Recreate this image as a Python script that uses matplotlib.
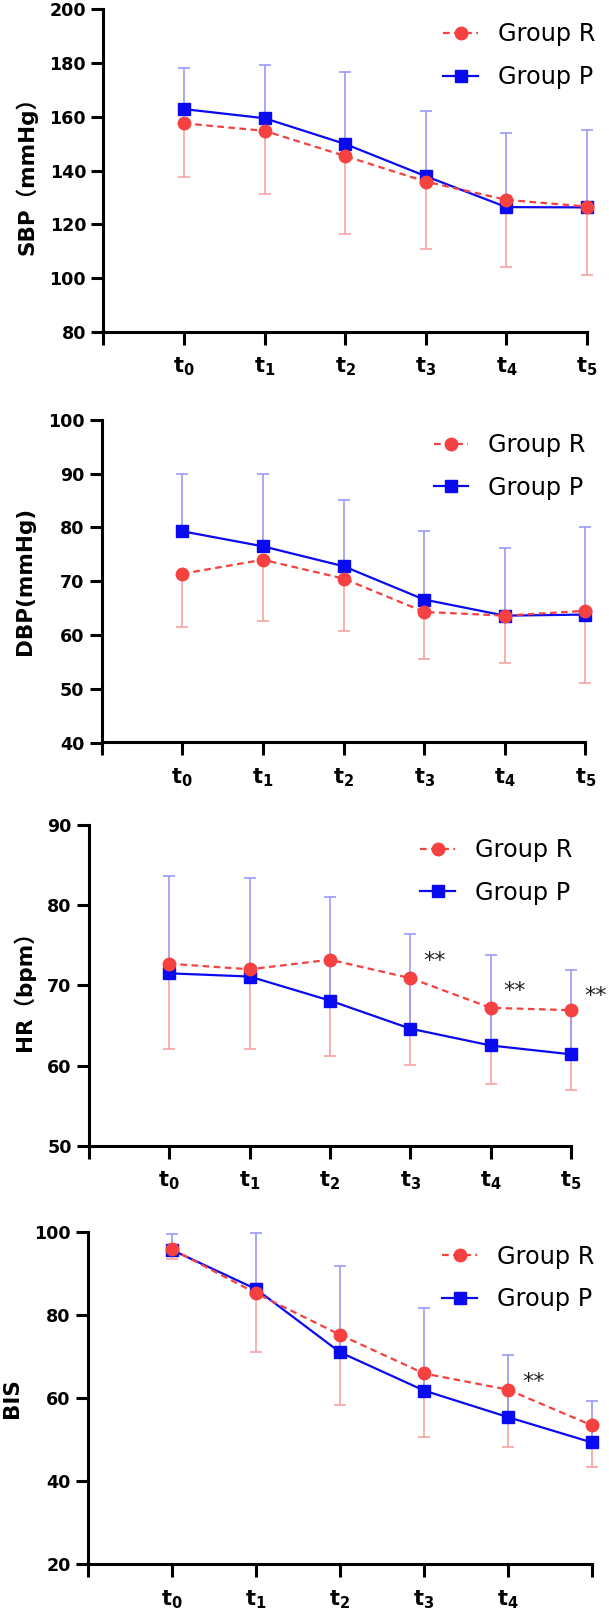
import numpy as np
import matplotlib
matplotlib.use("Agg")
import matplotlib.pyplot as plt
from matplotlib.lines import Line2D

plt.rcParams['font.family'] = ['DejaVu Sans', 'Noto Sans CJK SC']
plt.rcParams['mathtext.fontset'] = 'dejavusans'

# time points
x = np.arange(1, 7)
t_labels = [r'$\mathbf{t_0}$', r'$\mathbf{t_1}$', r'$\mathbf{t_2}$',
            r'$\mathbf{t_3}$', r'$\mathbf{t_4}$', r'$\mathbf{t_5}$']

# SBP
sbp_r = [157.6, 154.8, 145.4, 135.9, 129.1, 126.6]
sbp_r_low = [137.6, 131.3, 116.5, 110.9, 104.1, 101.3]
sbp_p = [162.9, 159.5, 149.9, 137.9, 126.4, 126.3]
sbp_p_high = [178.1, 179.5, 176.7, 162.3, 154.0, 155.3]

# DBP
dbp_r = [71.4, 74.0, 70.5, 64.3, 63.6, 64.5]
dbp_r_low = [61.5, 62.6, 60.7, 55.6, 54.7, 51.1]
dbp_p = [79.3, 76.5, 72.8, 66.6, 63.6, 63.8]
dbp_p_high = [89.9, 89.9, 85.2, 79.3, 76.2, 80.0]

# HR
hr_r = [72.7, 72.0, 73.2, 70.9, 67.2, 66.9]
hr_r_low = [62.0, 62.1, 61.2, 60.1, 57.75, 57.0]
hr_p = [71.5, 71.1, 68.1, 64.6, 62.5, 61.4]
hr_p_high = [83.7, 83.4, 81.0, 76.4, 73.75, 71.9]

# BIS
bis_r = [95.8, 85.2, 75.2, 65.9, 62.0, 53.4]
bis_r_low = [93.4, 71.0, 58.2, 50.6, 48.3, 43.5]
bis_p = [95.6, 86.2, 71.0, 61.8, 55.4, 49.3]
bis_p_high = [99.5, 99.8, 91.8, 81.6, 70.4, 59.2]

# significance marks: (index of time point, y)
hr_stars = [(3, 73.0), (4, 69.3), (5, 68.7)]
bis_stars = [(4, 63.8)]

red = '#F5413F'
blue = '#0A0AF0'
red_err = '#F7A3A3'
blue_err = '#9A9AF7'

W, H = 609, 1616
fig = plt.figure(figsize=(W / 100, H / 100), dpi=100)

# pixel boxes: left, right(x=6), top, bottom
boxes = [(103.5, 587, 9.5, 331.7),
         (101.7, 585.3, 420, 742.5),
         (89, 571, 825, 1145.7),
         (88, 592, 1231.7, 1564.3)]
# legend text overhang past the axes, px
leg_off = [8, 0, 1, 2]

panels = [
    (sbp_r, sbp_r_low, sbp_p, sbp_p_high, (80, 200), 20, 'SBP（mmHg）', [], 6),
    (dbp_r, dbp_r_low, dbp_p, dbp_p_high, (40, 100), 10, 'DBP(mmHg)', [], 6),
    (hr_r, hr_r_low, hr_p, hr_p_high, (50, 90), 10, 'HR（bpm）', hr_stars, 6),
    (bis_r, bis_r_low, bis_p, bis_p_high, (20, 100), 20, 'BIS', bis_stars, 5),
]

for (l, r, t, b), off, (yr, yr_low, yp, yp_high, ylim, step, ylab, stars, nlab) in zip(boxes, leg_off, panels):
    ax = fig.add_axes([l / W, 1 - b / H, (r - l) / W, (b - t) / H])

    yr = np.array(yr); yp = np.array(yp)
    ax.errorbar(x, yr, yerr=[yr - np.array(yr_low), np.zeros(6)], fmt='none',
                ecolor=red_err, elinewidth=1.2, capsize=4.2, capthick=1.2,
                zorder=2, clip_on=False)
    ax.errorbar(x, yp, yerr=[np.zeros(6), np.array(yp_high) - yp], fmt='none',
                ecolor=blue_err, elinewidth=1.2, capsize=4.2, capthick=1.2,
                zorder=2, clip_on=False)
    ax.plot(x, yp, color=blue, lw=1.6, marker='s', ms=8.8, zorder=3, clip_on=False)
    ax.plot(x, yr, color=red, lw=1.6, ls=(0, (3, 2)), marker='o', ms=9,
            zorder=4, clip_on=False)

    for i, ys in stars:
        ax.text(x[i] + 0.3, ys, '**', fontsize=16, ha='center', va='center',
                color='#222222')

    ax.set_xlim(0, 6)
    ax.set_ylim(*ylim)
    ax.set_yticks(np.arange(ylim[0], ylim[1] + 1, step))
    ax.set_xticks(np.arange(0, 7))
    ax.set_xticklabels([''] + t_labels[:nlab] + [''] * (6 - nlab))
    for s in ['top', 'right']:
        ax.spines[s].set_visible(False)
    for s in ['left', 'bottom']:
        ax.spines[s].set_linewidth(2.2)
    ax.tick_params(axis='y', length=9, width=2.2, labelsize=12.6, pad=3.5)
    ax.tick_params(axis='x', length=9, width=2.2, labelsize=15, pad=8)
    for lab in ax.get_yticklabels():
        lab.set_fontweight('bold')
    ax.set_ylabel(ylab, fontsize=15.5, fontweight='bold', labelpad=9)

    handles = [Line2D([], [], color=red, lw=1.6, ls=(0, (3, 2)), marker='o', ms=9),
               Line2D([], [], color=blue, lw=1.6, marker='s', ms=8.8)]
    ax.legend(handles, ['Group R', 'Group P'], loc='upper right',
              bbox_to_anchor=(1 + off / (r - l), 1 - 13 / (b - t)),
              frameon=False, fontsize=17.3, handlelength=1.44,
              handletextpad=0.82, labelspacing=0.78,
              borderaxespad=0, borderpad=0)

fig.savefig('out.png', dpi=100)
